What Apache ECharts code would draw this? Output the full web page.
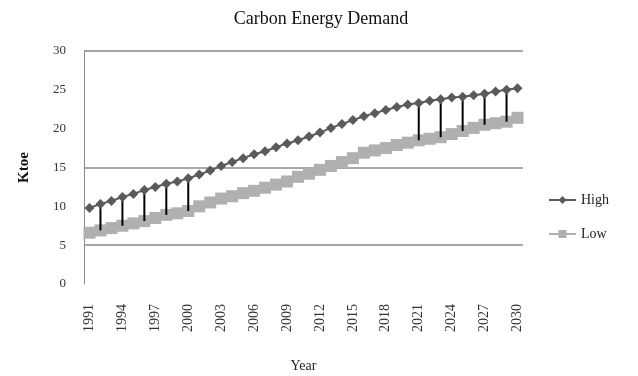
<!DOCTYPE html>
<html>
<head>
<meta charset="utf-8">
<script src="https://cdn.jsdelivr.net/npm/echarts@6/dist/echarts.min.js"></script>
<style>
  html, body { margin: 0; padding: 0; background: #fff; }
  #chart { width: 638px; height: 376px; }
</style>
</head>
<body>
<div id="chart"></div>
<script>
// Carbon energy demand projections (ktoe), 1991-2030
const years = [];
for (let y = 1991; y <= 2030; y++) years.push(String(y));

const highValues = [
  9.8, 10.3, 10.7, 11.2, 11.6, 12.1, 12.5, 12.9, 13.2, 13.6,
  14.1, 14.6, 15.2, 15.7, 16.2, 16.7, 17.1, 17.6, 18.1, 18.5,
  19.0, 19.5, 20.1, 20.6, 21.1, 21.6, 22.0, 22.4, 22.8, 23.1,
  23.3, 23.6, 23.8, 24.0, 24.1, 24.3, 24.5, 24.8, 25.0, 25.2
];
const lowValues = [
  6.6, 6.9, 7.2, 7.5, 7.8, 8.1, 8.5, 8.9, 9.1, 9.4,
  10.0, 10.5, 11.0, 11.3, 11.7, 12.0, 12.4, 12.8, 13.2, 13.8,
  14.2, 14.7, 15.2, 15.7, 16.2, 16.9, 17.2, 17.5, 17.9, 18.2,
  18.5, 18.7, 18.9, 19.3, 19.7, 20.1, 20.5, 20.7, 20.9, 21.4
];
// Years where a high-low connector is drawn
const rangeYears = ['1992', '1994', '1996', '1998', '2000', '2021', '2023', '2025', '2027', '2029'];

const yTicks = [0, 5, 10, 15, 20, 25, 30];

const serif = '"Liberation Serif", "DejaVu Serif", serif';

const rangeData = rangeYears.map(function (yr) {
  const i = years.indexOf(yr);
  return [yr, highValues[i], lowValues[i]];
});

const chart = echarts.init(document.getElementById('chart'));
chart.setOption({
  animation: false,
  backgroundColor: '#fff',
  title: {
    text: 'Carbon Energy Demand',
    left: 316,
    textAlign: 'center',
    top: 5,
    textStyle: { fontFamily: serif, fontSize: 18, fontWeight: 'normal', color: '#111' }
  },
  legend: {
    orient: 'vertical',
    left: 543,
    top: 188,
    itemGap: 20,
    itemWidth: 27,
    itemHeight: 10,
    data: ['High', 'Low'],
    textStyle: { fontFamily: serif, fontSize: 14, color: '#222' }
  },
  grid: { left: 84, right: 115, top: 51, bottom: 92, containLabel: false, outerBoundsMode: 'none' },
  xAxis: {
    type: 'category',
    data: years,
    boundaryGap: true,
    name: 'Year',
    nameLocation: 'middle',
    nameGap: 75,
    nameTextStyle: { fontFamily: serif, fontSize: 14, color: '#222' },
    axisLine: { show: false },
    axisTick: { show: false },
    axisLabel: {
      interval: 2,
      rotate: 90,
      margin: 20,
      fontFamily: serif,
      fontSize: 14,
      color: '#333'
    },
    splitLine: { show: false }
  },
  yAxis: {
    type: 'value',
    min: yTicks[0],
    max: yTicks[yTicks.length - 1],
    interval: 5,
    name: 'Ktoe',
    nameLocation: 'middle',
    nameGap: 52,
    nameRotate: 90,
    nameTextStyle: { fontFamily: serif, fontSize: 15, fontWeight: 'bold', color: '#111' },
    axisLine: { show: true, lineStyle: { color: '#8a8a8a', width: 1 } },
    axisTick: { show: false },
    axisLabel: { fontFamily: serif, fontSize: 13, color: '#333', margin: 18 },
    splitLine: {
      show: true,
      lineStyle: {
        color: ['rgba(0,0,0,0)', '#8a8a8a', 'rgba(0,0,0,0)', '#8a8a8a', 'rgba(0,0,0,0)', 'rgba(0,0,0,0)', '#8a8a8a'],
        width: 1.5
      }
    }
  },
  series: [
    {
      name: 'Low',
      type: 'line',
      data: lowValues,
      symbol: 'rect',
      symbolSize: 12,
      showAllSymbol: true,
      itemStyle: { color: '#b0b0b0' },
      lineStyle: { color: '#b0b0b0', width: 2 },
      z: 2
    },
    {
      type: 'custom',
      name: 'range',
      data: rangeData,
      z: 3,
      renderItem: function (params, api) {
        const top = api.coord([api.value(0), api.value(1)]);
        const bottom = api.coord([api.value(0), api.value(2)]);
        return {
          type: 'line',
          shape: { x1: top[0], y1: top[1], x2: bottom[0], y2: bottom[1] },
          style: { stroke: '#000', lineWidth: 2 }
        };
      }
    },
    {
      name: 'High',
      type: 'line',
      data: highValues,
      symbol: 'diamond',
      symbolSize: 10,
      showAllSymbol: true,
      itemStyle: { color: '#5a5a5a' },
      lineStyle: { color: '#5a5a5a', width: 2 },
      z: 4
    }
  ]
});
</script>
</body>
</html>
